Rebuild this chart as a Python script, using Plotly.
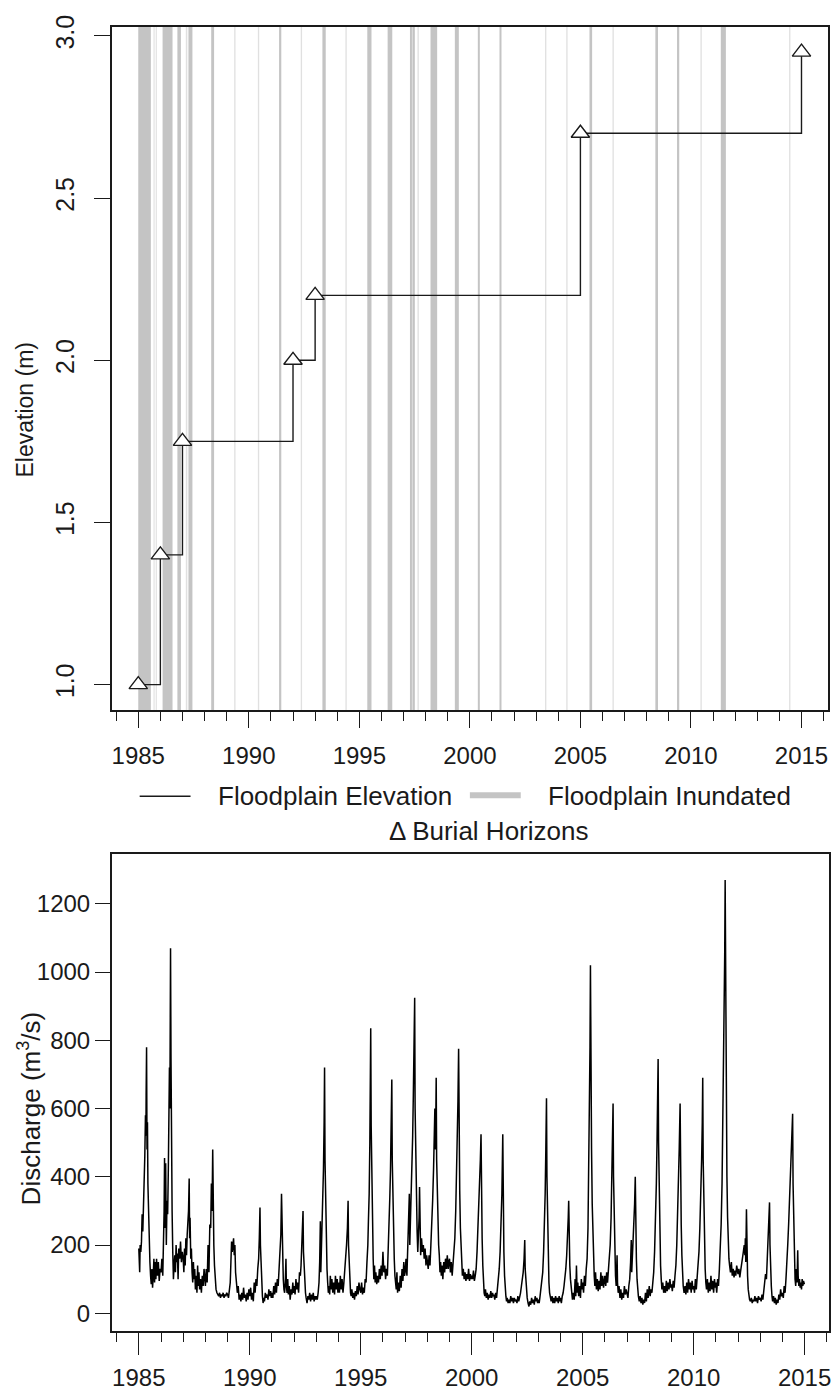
import plotly.graph_objects as go

# ---------------- DATA ----------------
# Floodplain elevation at burial horizons
horizon_year = [1985, 1986, 1987, 1992, 1993, 2005, 2015]
horizon_elev = [1.00, 1.40, 1.75, 2.00, 2.20, 2.70, 2.95]

# Floodplain inundation periods (decimal year start, end)
inund_start = [1985.00, 1985.69, 1985.79, 1986.10, 1986.77, 1987.15, 1987.27, 1988.30,
               1989.34, 1990.41, 1991.37, 1992.35, 1993.33, 1994.37, 1995.36, 1996.28,
               1997.29, 1997.40, 1997.63, 1998.22, 1999.32, 2000.36, 2001.34, 2003.40,
               2004.36, 2005.41, 2006.45, 2008.39, 2009.37, 2010.43, 2011.35, 2014.44]
inund_end   = [1985.57, 1985.74, 1985.84, 1986.55, 1986.93, 1987.22, 1987.45, 1988.43,
               1989.40, 1990.47, 1991.47, 1992.41, 1993.48, 1994.43, 1995.55, 1996.49,
               1997.38, 1997.51, 1997.69, 1998.52, 1999.50, 2000.45, 2001.43, 2003.46,
               2004.42, 2005.53, 2006.51, 2008.51, 2009.47, 2010.49, 2011.58, 2014.50]

# Daily discharge (m3/s): (fraction of year, value)
q1985 = [(0.00,190),(0.01,130),(0.02,185),(0.04,120),(0.06,200),(0.09,180),(0.12,210),(0.15,290),(0.18,240),(0.21,300),(0.24,380),(0.27,460),(0.30,580),(0.32,520),(0.33,640),(0.35,780),(0.37,480),(0.39,560),(0.41,380),(0.44,260),(0.47,240),(0.50,150),(0.53,110),(0.56,85),(0.59,130),(0.62,75),(0.65,110),(0.68,160),(0.71,90),(0.74,150),(0.77,100),(0.80,160),(0.84,110),(0.88,150),(0.92,95),(0.96,130)]
q1986 = [(0.00,120),(0.04,160),(0.08,110),(0.11,200),(0.14,300),(0.16,455),(0.18,250),(0.21,440),(0.24,200),(0.27,330),(0.30,290),(0.33,420),(0.36,580),(0.38,720),(0.40,600),(0.42,820),(0.43,1070),(0.45,750),(0.47,480),(0.50,300),(0.53,180),(0.56,100),(0.59,140),(0.62,170),(0.65,120),(0.68,200),(0.71,150),(0.74,175),(0.77,100),(0.80,190),(0.84,160),(0.88,210),(0.92,150),(0.96,180)]
q1987 = [(0.00,160),(0.03,120),(0.06,190),(0.09,140),(0.12,220),(0.15,170),(0.18,230),(0.21,260),(0.24,300),(0.27,395),(0.29,220),(0.31,280),(0.34,160),(0.37,190),(0.40,120),(0.43,90),(0.46,150),(0.49,100),(0.52,130),(0.55,70),(0.58,110),(0.62,60),(0.65,140),(0.68,80),(0.71,120),(0.74,70),(0.78,100),(0.82,60),(0.86,110),(0.90,80),(0.94,130),(0.97,90)]
q1988 = [(0.00,80),(0.04,130),(0.08,90),(0.12,200),(0.16,120),(0.20,260),(0.24,250),(0.27,380),(0.30,300),(0.33,480),(0.35,260),(0.38,200),(0.41,140),(0.44,90),(0.48,70),(0.52,60),(0.56,55),(0.60,50),(0.64,60),(0.68,45),(0.72,55),(0.76,50),(0.80,60),(0.84,45),(0.88,55),(0.92,50),(0.96,60)]
q1989 = [(0.00,55),(0.04,45),(0.08,70),(0.12,90),(0.15,150),(0.18,210),(0.21,180),(0.24,200),(0.27,220),(0.30,170),(0.33,200),(0.36,120),(0.40,90),(0.44,60),(0.48,80),(0.52,40),(0.56,55),(0.60,35),(0.64,60),(0.68,40),(0.72,75),(0.76,45),(0.80,55),(0.84,35),(0.88,60),(0.92,40),(0.96,70)]
q1990 = [(0.00,50),(0.04,75),(0.08,40),(0.12,60),(0.16,35),(0.20,90),(0.24,60),(0.28,100),(0.32,80),(0.36,130),(0.40,160),(0.43,220),(0.46,310),(0.48,200),(0.51,120),(0.54,80),(0.57,50),(0.60,30),(0.63,45),(0.66,35),(0.70,60),(0.74,45),(0.78,55),(0.82,40),(0.86,70),(0.90,50),(0.94,65),(0.97,45)]
q1991 = [(0.00,60),(0.04,45),(0.08,80),(0.12,55),(0.16,90),(0.20,60),(0.24,100),(0.28,80),(0.32,120),(0.36,160),(0.40,230),(0.43,350),(0.45,250),(0.48,180),(0.51,100),(0.54,70),(0.57,60),(0.60,90),(0.63,160),(0.65,80),(0.68,60),(0.71,100),(0.74,55),(0.78,80),(0.82,40),(0.86,70),(0.90,55),(0.94,90),(0.97,60)]
q1992 = [(0.00,80),(0.04,55),(0.08,100),(0.12,70),(0.16,90),(0.20,60),(0.24,120),(0.28,110),(0.31,140),(0.34,200),(0.37,240),(0.40,300),(0.42,180),(0.45,120),(0.48,80),(0.51,60),(0.54,45),(0.58,30),(0.62,50),(0.66,40),(0.70,60),(0.74,35),(0.78,55),(0.82,40),(0.86,60),(0.90,35),(0.94,50),(0.97,40)]
q1993 = [(0.00,50),(0.04,40),(0.08,60),(0.12,90),(0.15,150),(0.18,270),(0.20,120),(0.23,180),(0.26,250),(0.29,300),(0.32,420),(0.35,560),(0.37,720),(0.39,450),(0.42,300),(0.45,200),(0.48,130),(0.51,90),(0.54,60),(0.57,80),(0.60,55),(0.63,110),(0.66,70),(0.70,100),(0.74,60),(0.78,90),(0.82,55),(0.86,110),(0.90,70),(0.94,100),(0.97,60)]
q1994 = [(0.00,90),(0.04,60),(0.08,110),(0.12,70),(0.16,100),(0.20,60),(0.24,90),(0.28,120),(0.32,160),(0.36,200),(0.40,250),(0.43,330),(0.45,200),(0.48,130),(0.51,80),(0.54,60),(0.57,50),(0.60,70),(0.64,45),(0.68,60),(0.72,40),(0.76,65),(0.80,50),(0.84,80),(0.88,55),(0.92,90),(0.96,70)]
q1995 = [(0.00,60),(0.04,90),(0.08,55),(0.12,75),(0.16,60),(0.20,100),(0.24,90),(0.28,150),(0.32,200),(0.35,280),(0.38,350),(0.41,500),(0.43,640),(0.45,835),(0.47,550),(0.50,380),(0.53,250),(0.56,160),(0.59,100),(0.62,140),(0.65,90),(0.68,120),(0.72,85),(0.76,110),(0.80,90),(0.84,130),(0.88,100),(0.92,140),(0.96,110)]
q1996 = [(0.00,180),(0.04,120),(0.08,140),(0.12,100),(0.16,130),(0.20,110),(0.24,180),(0.28,260),(0.31,340),(0.34,420),(0.37,540),(0.40,685),(0.42,450),(0.45,320),(0.48,220),(0.51,160),(0.54,110),(0.57,80),(0.60,70),(0.63,120),(0.66,60),(0.70,90),(0.74,65),(0.78,110),(0.82,75),(0.86,130),(0.90,95),(0.94,150),(0.97,110)]
q1997 = [(0.00,120),(0.04,160),(0.08,110),(0.12,180),(0.16,240),(0.19,350),(0.21,200),(0.24,260),(0.28,340),(0.31,420),(0.34,520),(0.37,640),(0.40,760),(0.43,925),(0.45,600),(0.48,420),(0.51,300),(0.54,240),(0.57,180),(0.60,220),(0.63,280),(0.65,370),(0.67,210),(0.70,170),(0.74,220),(0.78,180),(0.82,200),(0.86,160),(0.90,190),(0.94,140),(0.97,170)]
q1998 = [(0.00,150),(0.04,130),(0.08,170),(0.12,140),(0.16,200),(0.20,250),(0.24,330),(0.28,420),(0.31,500),(0.34,600),(0.37,480),(0.40,690),(0.42,450),(0.45,330),(0.48,250),(0.51,200),(0.54,170),(0.57,120),(0.60,150),(0.63,110),(0.66,140),(0.70,100),(0.74,150),(0.78,120),(0.82,160),(0.86,130),(0.90,170),(0.94,130),(0.97,150)]
q1999 = [(0.00,160),(0.04,120),(0.08,150),(0.12,110),(0.16,140),(0.20,180),(0.24,220),(0.28,300),(0.32,400),(0.35,500),(0.38,620),(0.41,775),(0.43,520),(0.46,360),(0.49,250),(0.52,180),(0.55,140),(0.58,110),(0.62,130),(0.66,100),(0.70,120),(0.74,95),(0.78,115),(0.82,100),(0.86,130),(0.90,95),(0.94,115),(0.97,100)]
q2000 = [(0.00,110),(0.04,100),(0.08,125),(0.12,95),(0.16,110),(0.20,130),(0.24,180),(0.28,240),(0.32,300),(0.36,380),(0.39,450),(0.42,525),(0.44,350),(0.47,220),(0.50,140),(0.53,90),(0.56,60),(0.59,50),(0.62,70),(0.66,45),(0.70,60),(0.74,40),(0.78,55),(0.82,45),(0.86,65),(0.90,45),(0.94,60),(0.97,50)]
q2001 = [(0.00,55),(0.04,40),(0.08,60),(0.12,45),(0.16,70),(0.20,90),(0.24,130),(0.28,180),(0.32,250),(0.36,350),(0.40,525),(0.42,300),(0.45,180),(0.48,110),(0.51,70),(0.54,50),(0.57,35),(0.60,45),(0.64,30),(0.68,40),(0.72,30),(0.76,50),(0.80,35),(0.84,45),(0.88,30),(0.92,45),(0.96,35)]
q2002 = [(0.00,40),(0.04,30),(0.08,50),(0.12,35),(0.16,45),(0.20,60),(0.24,80),(0.28,100),(0.32,120),(0.36,160),(0.39,215),(0.41,130),(0.44,90),(0.47,60),(0.50,45),(0.54,30),(0.58,20),(0.62,35),(0.66,25),(0.70,45),(0.74,30),(0.78,40),(0.82,25),(0.86,50),(0.90,35),(0.94,45),(0.97,30)]
q2003 = [(0.00,40),(0.04,30),(0.08,50),(0.12,70),(0.16,90),(0.20,120),(0.24,180),(0.28,260),(0.31,350),(0.34,480),(0.37,630),(0.39,400),(0.42,250),(0.45,150),(0.48,90),(0.51,60),(0.54,45),(0.58,35),(0.62,50),(0.66,30),(0.70,45),(0.74,30),(0.78,50),(0.82,35),(0.86,45),(0.90,30),(0.94,50),(0.97,35)]
q2004 = [(0.00,45),(0.04,30),(0.08,50),(0.12,60),(0.16,80),(0.20,100),(0.24,130),(0.28,170),(0.32,220),(0.35,280),(0.37,330),(0.39,200),(0.42,140),(0.45,100),(0.48,70),(0.51,50),(0.54,40),(0.58,60),(0.62,40),(0.66,100),(0.69,50),(0.72,140),(0.75,60),(0.78,90),(0.82,50),(0.86,80),(0.90,45),(0.94,100),(0.97,70)]
q2005 = [(0.00,90),(0.04,60),(0.08,110),(0.12,80),(0.16,130),(0.20,160),(0.24,250),(0.27,380),(0.30,550),(0.33,780),(0.35,1020),(0.37,700),(0.40,480),(0.43,320),(0.46,220),(0.49,150),(0.52,110),(0.55,80),(0.58,120),(0.62,70),(0.66,100),(0.70,65),(0.74,95),(0.78,70),(0.82,120),(0.86,80),(0.90,110),(0.94,75),(0.97,95)]
q2006 = [(0.00,110),(0.04,80),(0.08,120),(0.12,90),(0.16,130),(0.20,150),(0.24,200),(0.28,280),(0.31,380),(0.34,480),(0.37,615),(0.39,400),(0.42,260),(0.45,170),(0.48,110),(0.51,80),(0.54,120),(0.55,170),(0.57,90),(0.60,60),(0.64,80),(0.68,45),(0.72,70),(0.76,40),(0.80,60),(0.84,45),(0.88,80),(0.92,55),(0.96,70)]
q2007 = [(0.00,60),(0.04,45),(0.08,80),(0.12,100),(0.16,150),(0.19,215),(0.21,120),(0.24,160),(0.28,200),(0.31,260),(0.34,320),(0.37,400),(0.39,250),(0.42,160),(0.45,100),(0.48,70),(0.51,50),(0.55,35),(0.59,50),(0.63,30),(0.67,45),(0.71,25),(0.75,40),(0.79,30),(0.83,60),(0.87,35),(0.91,70),(0.95,45)]
q2008 = [(0.00,80),(0.04,50),(0.08,70),(0.12,60),(0.16,90),(0.20,120),(0.24,180),(0.28,260),(0.32,380),(0.35,500),(0.38,620),(0.40,745),(0.42,500),(0.45,330),(0.48,210),(0.51,140),(0.54,100),(0.57,70),(0.61,90),(0.65,60),(0.69,80),(0.73,60),(0.77,95),(0.81,65),(0.85,90),(0.89,70),(0.93,100),(0.97,75)]
q2009 = [(0.00,85),(0.04,65),(0.08,95),(0.12,75),(0.16,110),(0.20,140),(0.24,200),(0.28,280),(0.32,380),(0.35,480),(0.39,615),(0.41,400),(0.44,260),(0.47,170),(0.50,110),(0.53,80),(0.57,60),(0.61,80),(0.65,55),(0.69,90),(0.73,60),(0.77,100),(0.81,70),(0.85,90),(0.89,60),(0.93,95),(0.97,70)]
q2010 = [(0.00,80),(0.04,60),(0.08,100),(0.12,70),(0.16,110),(0.20,130),(0.24,180),(0.28,250),(0.32,330),(0.36,450),(0.39,560),(0.41,690),(0.43,450),(0.46,290),(0.49,190),(0.52,130),(0.55,90),(0.58,70),(0.62,100),(0.66,60),(0.70,90),(0.74,65),(0.78,110),(0.82,70),(0.86,95),(0.90,60),(0.94,100),(0.97,75)]
q2011 = [(0.00,90),(0.04,60),(0.08,100),(0.12,80),(0.16,130),(0.20,180),(0.24,260),(0.28,380),(0.31,520),(0.34,680),(0.37,850),(0.40,1050),(0.42,1270),(0.44,900),(0.47,600),(0.50,400),(0.53,280),(0.56,200),(0.59,160),(0.62,140),(0.66,120),(0.70,150),(0.74,110),(0.78,130),(0.82,105),(0.86,125),(0.90,110),(0.94,140),(0.97,120)]
q2012 = [(0.00,115),(0.04,130),(0.08,105),(0.12,125),(0.16,140),(0.20,160),(0.24,180),(0.28,200),(0.31,170),(0.33,220),(0.35,150),(0.38,305),(0.40,180),(0.43,110),(0.46,70),(0.49,50),(0.52,40),(0.56,35),(0.60,45),(0.64,30),(0.68,40),(0.72,35),(0.76,50),(0.80,35),(0.84,45),(0.88,30),(0.92,50),(0.96,40)]
q2013 = [(0.00,45),(0.04,35),(0.08,55),(0.12,40),(0.16,70),(0.20,90),(0.24,115),(0.28,100),(0.32,160),(0.36,220),(0.39,280),(0.42,325),(0.44,200),(0.47,120),(0.50,80),(0.53,50),(0.56,35),(0.60,50),(0.64,30),(0.68,45),(0.72,25),(0.76,40),(0.80,30),(0.84,55),(0.88,40),(0.92,70),(0.96,50)]
q2014 = [(0.00,60),(0.04,45),(0.08,80),(0.12,60),(0.16,100),(0.20,140),(0.24,200),(0.28,260),(0.32,330),(0.36,400),(0.40,480),(0.43,530),(0.46,585),(0.48,380),(0.51,240),(0.54,150),(0.57,100),(0.60,80),(0.63,130),(0.66,90),(0.69,185),(0.71,110),(0.74,80),(0.77,100),(0.80,75),(0.83,90),(0.86,70),(0.89,100),(0.92,80),(0.95,95),(0.99,85)]

discharge_years = list(range(1985, 2015))
discharge_by_year = [q1985, q1986, q1987, q1988, q1989, q1990, q1991, q1992, q1993, q1994,
                     q1995, q1996, q1997, q1998, q1999, q2000, q2001, q2002, q2003, q2004,
                     q2005, q2006, q2007, q2008, q2009, q2010, q2011, q2012, q2013, q2014]

x_tick_years = [1985, 1990, 1995, 2000, 2005, 2010, 2015]
elev_ticks = [1.0, 1.5, 2.0, 2.5, 3.0]
q_ticks = [0, 200, 400, 600, 800, 1000, 1200]

# ---------------- FIGURE ----------------
W, H = 837, 1391
FONT = "Liberation Sans, Arial, Helvetica, sans-serif"
INK = "#1a1a1a"

def px_x(p):
    return p / W

def px_y(p):
    return 1 - p / H

q_t, q_v = [], []
for yr, pts in zip(discharge_years, discharge_by_year):
    for f, v in pts:
        q_t.append(yr + f)
        q_v.append(v)

fig = go.Figure()

# inundation bands (top panel)
shapes = []
for s, e in zip(inund_start, inund_end):
    color = "#e0e0e0" if (e - s) < 0.07 else "#c4c4c4"
    shapes.append(dict(type="rect", xref="x", yref="y domain", x0=s, x1=e, y0=0, y1=1,
                       fillcolor=color, line=dict(width=0), layer="below"))

fig.add_trace(go.Scatter(x=horizon_year, y=horizon_elev, mode="lines", line_shape="hv",
                         line=dict(color=INK, width=1.4), xaxis="x", yaxis="y",
                         showlegend=False, hoverinfo="skip"))
fig.add_trace(go.Scatter(x=horizon_year, y=horizon_elev, mode="markers",
                         marker=dict(symbol="triangle-up", size=16, color="white",
                                     line=dict(color=INK, width=1.4)),
                         xaxis="x", yaxis="y", showlegend=False))

fig.add_trace(go.Scatter(x=q_t, y=q_v, mode="lines", line=dict(color="black", width=1.5),
                         xaxis="x2", yaxis="y2", showlegend=False))

axis_common = dict(showline=True, mirror=True, linecolor=INK, linewidth=1.5,
                   showgrid=False, zeroline=False, ticks="outside", tickcolor=INK,
                   tickwidth=1.3, tickfont=dict(family=FONT, size=24, color=INK))

fig.update_layout(
    width=W, height=H, margin=dict(l=0, r=0, t=0, b=0),
    paper_bgcolor="white", plot_bgcolor="white", showlegend=False,
    xaxis=dict(axis_common, domain=[px_x(112), px_x(830)], range=[1983.8, 2016.2],
               tickmode="array", tickvals=x_tick_years, ticklen=16, anchor="y",
               ticklabelstandoff=8,
               minor=dict(dtick=1, tick0=1985, ticklen=9, ticks="outside",
                          tickcolor=INK, tickwidth=1.3)),
    yaxis=dict(axis_common, domain=[px_y(704), px_y(15)], range=[0.922, 3.028],
               tickmode="array", tickvals=elev_ticks,
               ticktext=[f"{v:.1f}" for v in elev_ticks], tickangle=-90, ticklen=16,
               ticklabelstandoff=10, tickfont=dict(family=FONT, size=25, color=INK),
               anchor="x"),
    xaxis2=dict(axis_common, domain=[px_x(112), px_x(831)], range=[1983.78, 2016.1],
                tickmode="array", tickvals=x_tick_years, ticklen=22, anchor="y2",
                ticklabelstandoff=2,
                minor=dict(dtick=1, tick0=1985, ticklen=9, ticks="outside",
                           tickcolor=INK, tickwidth=1.3)),
    yaxis2=dict(axis_common, domain=[px_y(1330.5), px_y(849)], range=[-52, 1347],
                tickmode="array", tickvals=q_ticks, ticklen=15, anchor="x2"),
    shapes=shapes,
)

# legend for top panel
leg_shapes = [
    dict(type="line", xref="paper", yref="paper", x0=px_x(140), x1=px_x(191),
         y0=px_y(791), y1=px_y(791), line=dict(color=INK, width=1.4)),
    dict(type="line", xref="paper", yref="paper", x0=px_x(471), x1=px_x(522),
         y0=px_y(790), y1=px_y(790), line=dict(color="#c4c4c4", width=6)),
]
for s in leg_shapes:
    fig.add_shape(**s)

ann = [
    dict(text="Floodplain Elevation", x=px_x(217), y=px_y(791), xanchor="left"),
    dict(text="Floodplain Inundated", x=px_x(547), y=px_y(791), xanchor="left"),
    dict(text="Δ Burial Horizons", x=px_x(490), y=px_y(826), xanchor="center"),
]
for a in ann:
    fig.add_annotation(xref="paper", yref="paper", yanchor="middle", showarrow=False,
                       font=dict(family=FONT, size=26, color=INK), **a)

fig.add_annotation(text="Elevation (m)", xref="paper", yref="paper", x=px_x(25),
                   y=px_y(401), textangle=-90, showarrow=False, xanchor="center",
                   yanchor="middle", font=dict(family=FONT, size=23, color=INK))
fig.add_annotation(text="Discharge (m<sup>3</sup>/s)", xref="paper", yref="paper",
                   x=px_x(30), y=px_y(1106), textangle=-90, showarrow=False,
                   xanchor="center", yanchor="middle",
                   font=dict(family=FONT, size=26, color=INK))

fig.write_html("out.html")
